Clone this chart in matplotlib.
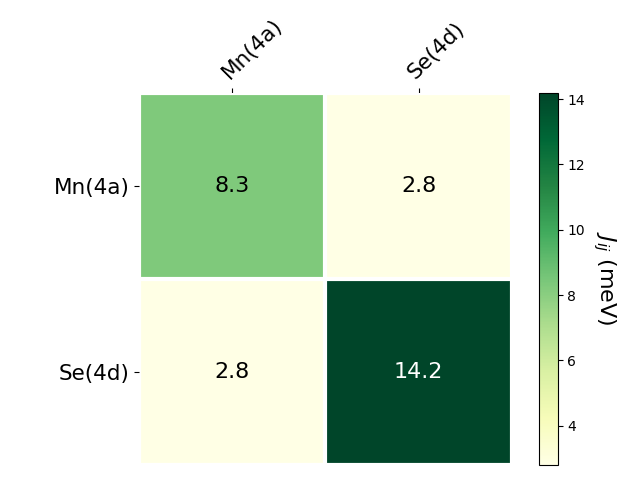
import numpy as np
import matplotlib.pyplot as plt

sites = ["Mn(4a)", "Se(4d)"]
jij = np.array([[8.3, 2.8],
                [2.8, 14.2]])

fig, ax = plt.subplots(figsize=(6.4, 4.8))
im = ax.imshow(jij, cmap="YlGn", interpolation="none")
cbar = fig.colorbar(im, ax=ax)
cbar.ax.set_ylabel(r"$J_{ij}$ (meV)", rotation=-90, va="bottom", fontsize=16)

ax.set_xticks(np.arange(len(sites)), labels=sites, fontsize=15.5)
ax.set_yticks(np.arange(len(sites)), labels=sites, fontsize=15.5)
ax.tick_params(top=True, bottom=False, labeltop=True, labelbottom=False)
plt.setp(ax.get_xticklabels(), rotation=45, ha="left", rotation_mode="anchor")

for s in ax.spines.values():
    s.set_visible(False)
ax.set_xticks(np.arange(jij.shape[1] + 1) - .5, minor=True)
ax.set_yticks(np.arange(jij.shape[0] + 1) - .5, minor=True)
ax.grid(which="minor", color="w", linestyle="-", linewidth=3)
ax.tick_params(which="minor", bottom=False, left=False, top=False)

thr = im.norm(jij.max()) / 2.
for i in range(jij.shape[0]):
    for j in range(jij.shape[1]):
        c = "white" if im.norm(jij[i, j]) > thr else "black"
        ax.text(j, i, f"{jij[i, j]:.1f}", ha="center", va="center", color=c, fontsize=16)

fig.tight_layout()
fig.savefig("out.png", dpi=100)
